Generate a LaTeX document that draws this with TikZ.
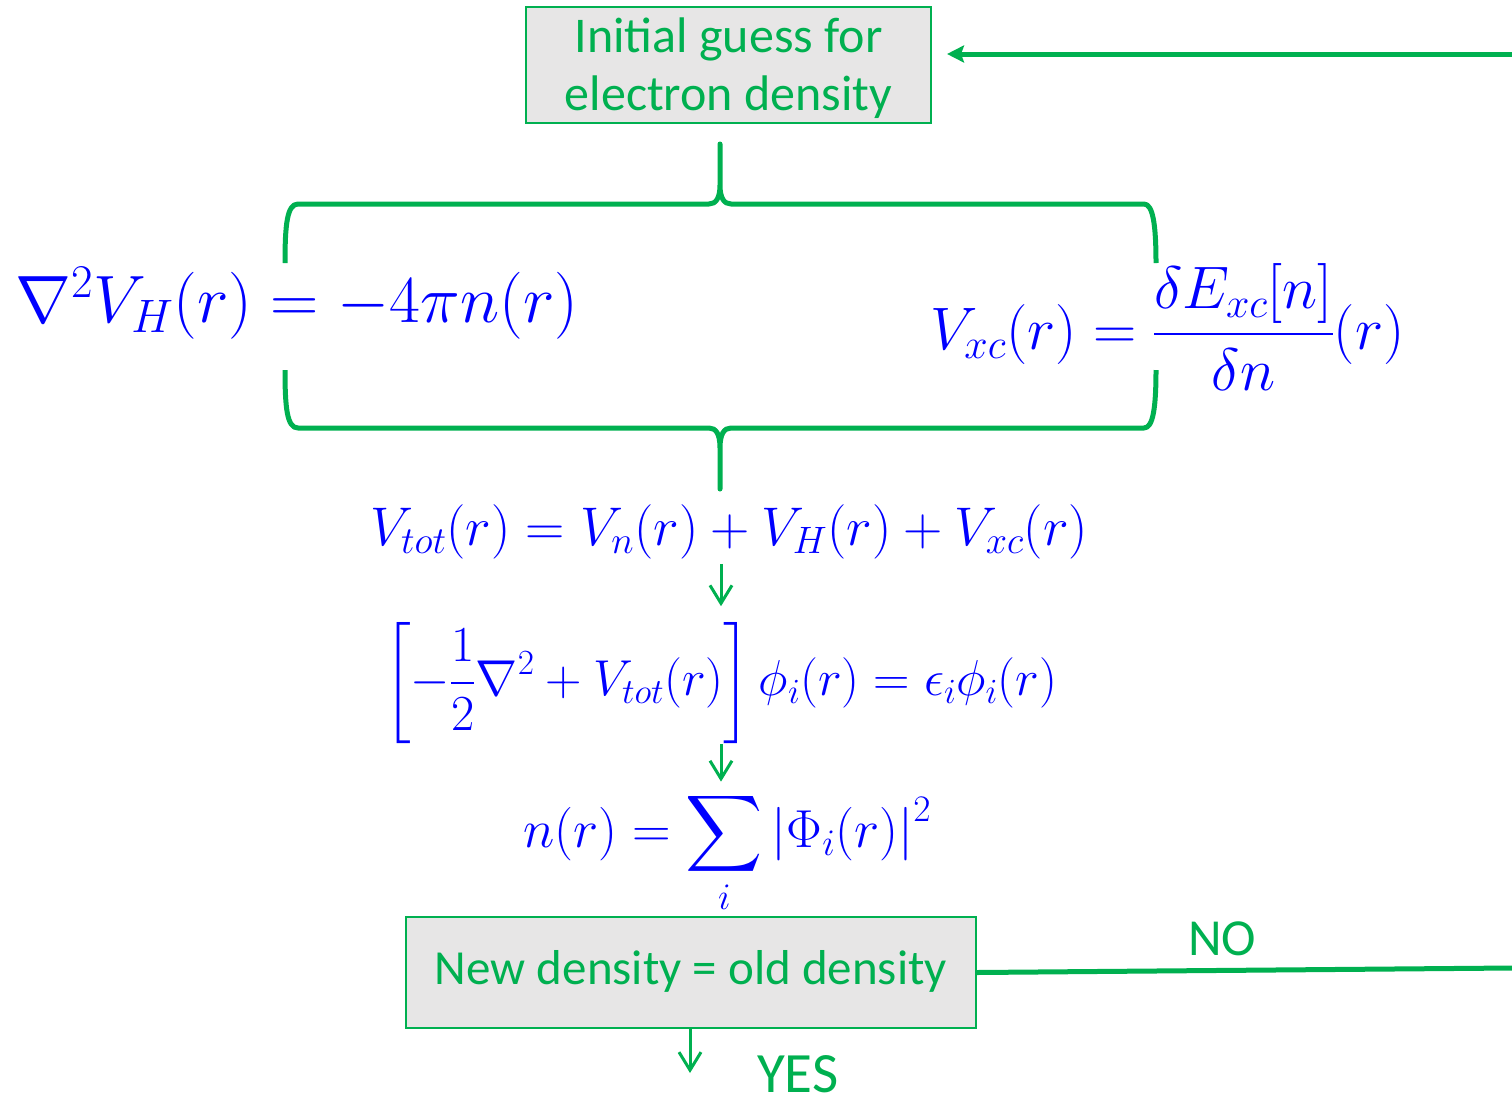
\RequirePackage{fix-cm}
\documentclass[tikz,border=0pt]{standalone}
\usepackage{fontspec}
\DeclareFontShape{OMX}{cmex}{m}{n}{<->cmex10}{}
\newfontfamily\carlito{Carlito}
\usetikzlibrary{arrows.meta}
\definecolor{pgreen}{HTML}{00B050}
\definecolor{pblue}{HTML}{0000FF}
\definecolor{pgray}{HTML}{E7E6E6}
\begin{document}
\begin{tikzpicture}[x=1pt,y=-1pt,
  box/.style={draw=pgreen, line width=2pt, fill=pgray, text=pgreen, inner sep=0pt, align=center},
  eqn/.style={text=pblue, inner sep=0pt},
  lbl/.style={text=pgreen, inner sep=0pt, font=\carlito\fontsize{52}{60}\selectfont},
  brace/.style={draw=pgreen, line width=5pt, line join=round},
  flowarrow/.style={draw=pgreen, line width=3pt, -{Straight Barb[length=18pt,width=22pt,line width=3pt]}},
  loopline/.style={draw=pgreen, line width=5pt}
]
\useasboundingbox (0,0) rectangle (1512,1092);

% boxes
\node[box, minimum width=405pt, minimum height=112pt, font=\carlito\fontsize{50}{58}\selectfont] (init) at (728.5,65)
  {\rule{0pt}{45pt}Initial guess for\\electron density\rule[-13pt]{0pt}{0pt}};
\node[box, minimum width=570pt, minimum height=111pt, font=\carlito\fontsize{49}{58}\selectfont] (check) at (691,972.5)
  {\rule[-12pt]{0pt}{47pt}New density = old density};

% equations
\node[eqn, anchor=base west] (eq1) at (15,322) {\fontsize{67}{80}\selectfont$\nabla^2V_H(r) = -4\pi n(r)$};
\node[eqn, anchor=base west] (eq2) at (930,349) {\fontsize{60}{72}\selectfont$V_{xc}(r) = {\displaystyle\frac{\delta E_{xc}[n]}{\delta n}}(r)$};
\node[eqn, anchor=base] (eq3) at (729,545) {\fontsize{54.5}{66}\selectfont$V_{tot}(r) = V_n(r) + V_H(r) + V_{xc}(r)$};
\node[eqn, anchor=west] (eq4) at (384,683) {\fontsize{50.5}{60}\selectfont$\displaystyle\left[-\frac{1}{2}\nabla^2 + V_{tot}(r)\right]\phi_i(r) = \epsilon_i\phi_i(r)$};
\node[eqn, anchor=base west] (eq5) at (523,847) {\fontsize{53.5}{64}\selectfont$\displaystyle n(r) = \sum_i \left|\Phi_i(r)\right|^2$};

% labels
\node[lbl, anchor=base west] (no) at (1188,955) {NO};
\node[lbl, anchor=base west, font=\carlito\fontsize{57}{66}\selectfont] (yes) at (757,1092) {YES};

% coordinates
\coordinate (ax) at (721,0);
\coordinate (retR) at (1512,54);
\coordinate (noR) at (1512,968);
\coordinate (yesEnd) at (690,1073);

% braces
\draw[brace] (285,263) .. controls (285,225) and (287,204) .. (298,204) -- (709,204)
  .. controls (716,204) and (720,198) .. (720,185) -- (720,144) -- (720,185)
  .. controls (720,198) and (724,204) .. (731,204) -- (1144,204)
  .. controls (1153,204) and (1156,225) .. (1156,263);
\draw[brace] (285,370) .. controls (285,408) and (287,428) .. (298,428) -- (709,428)
  .. controls (716,428) and (720,434) .. (720,448) -- (720,489) -- (720,448)
  .. controls (720,434) and (724,428) .. (731,428) -- (1144,428)
  .. controls (1153,428) and (1156,408) .. (1156,370);

% connectors
\draw[loopline, -{Stealth[length=17pt,width=17pt,inset=3pt]}, shorten >=15pt] (retR) -- (init.east |- retR);
\draw[loopline] (check.east) -- (noR);
\draw[flowarrow, shorten <=5pt, shorten >=16pt] (eq3.south -| ax) -- (eq4.north -| ax);
\draw[flowarrow, shorten >=9pt] (eq4.south -| ax) -- (eq5.north -| ax);
\draw[flowarrow] (check.south -| yesEnd) -- (yesEnd);
\end{tikzpicture}
\end{document}
